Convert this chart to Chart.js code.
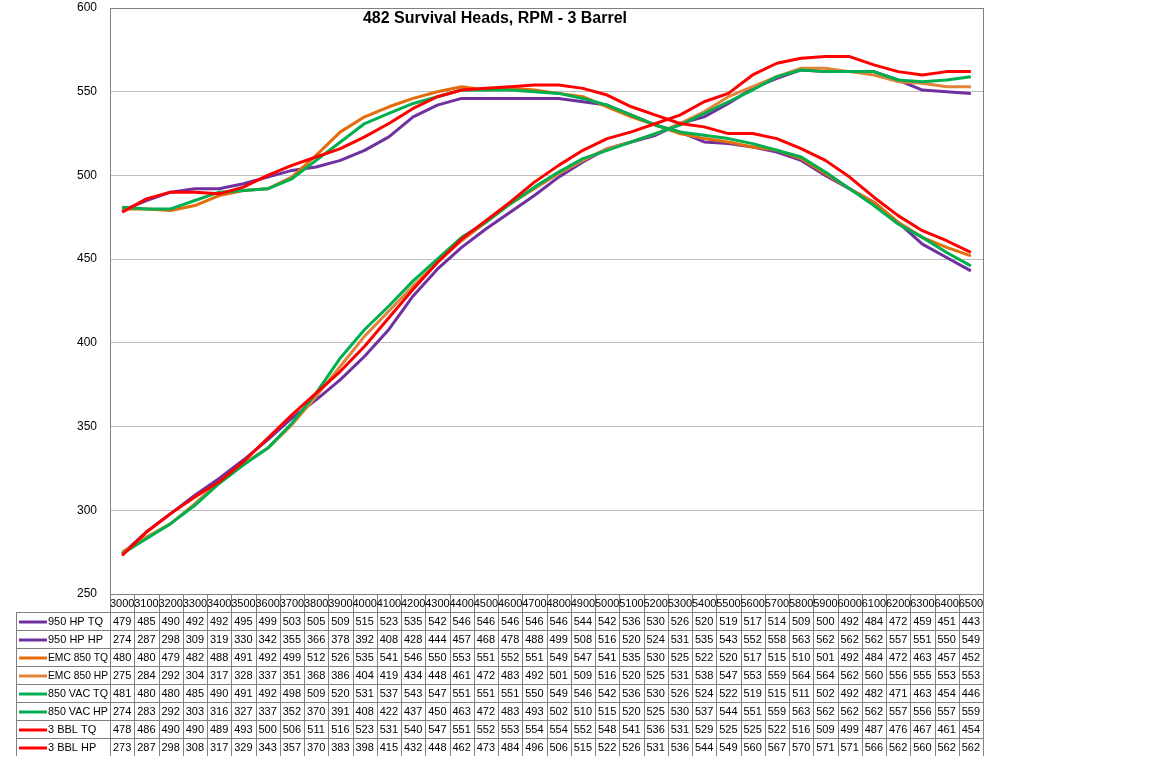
<!DOCTYPE html>
<html>
<head>
<meta charset="utf-8">
<title>482 Survival Heads, RPM - 3 Barrel</title>
<script src="https://cdn.jsdelivr.net/npm/chart.js@4.4.1/dist/chart.umd.min.js"></script>
<style>
  body { margin: 0; background: #fff; }
  #wrap { width: 1152px; height: 759px; position: relative; }
</style>
</head>
<body>
<div id="wrap"><canvas id="dynoChart"></canvas></div>
<script>
const rpm = ['3000','3100','3200','3300','3400','3500','3600','3700','3800','3900','4000','4100',
  '4200','4300','4400','4500','4600','4700','4800','4900','5000','5100','5200','5300',
  '5400','5500','5600','5700','5800','5900','6000','6100','6200','6300','6400','6500'];

const hp950Tq = [479,485,490,492,492,495,499,503,505,509,515,523,535,542,546,546,546,546,546,544,542,536,530,526,520,519,517,514,509,500,492,484,472,459,451,443];
const hp950Hp = [274,287,298,309,319,330,342,355,366,378,392,408,428,444,457,468,478,488,499,508,516,520,524,531,535,543,552,558,563,562,562,562,557,551,550,549];
const emc850Tq = [480,480,479,482,488,491,492,499,512,526,535,541,546,550,553,551,552,551,549,547,541,535,530,525,522,520,517,515,510,501,492,484,472,463,457,452];
const emc850Hp = [275,284,292,304,317,328,337,351,368,386,404,419,434,448,461,472,483,492,501,509,516,520,525,531,538,547,553,559,564,564,562,560,556,555,553,553];
const vac850Tq = [481,480,480,485,490,491,492,498,509,520,531,537,543,547,551,551,551,550,549,546,542,536,530,526,524,522,519,515,511,502,492,482,471,463,454,446];
const vac850Hp = [274,283,292,303,316,327,337,352,370,391,408,422,437,450,463,472,483,493,502,510,515,520,525,530,537,544,551,559,563,562,562,562,557,556,557,559];
const bbl3Tq = [478,486,490,490,489,493,500,506,511,516,523,531,540,547,551,552,553,554,554,552,548,541,536,531,529,525,525,522,516,509,499,487,476,467,461,454];
const bbl3Hp = [273,287,298,308,317,329,343,357,370,383,398,415,432,448,462,473,484,496,506,515,522,526,531,536,544,549,560,567,570,571,571,566,562,560,562,562];

const yTicks = [250, 300, 350, 400, 450, 500, 550, 600];
const chartTitle = '482 Survival Heads, RPM - 3 Barrel';

const FONT = '"Liberation Sans", Arial, sans-serif';

const series = [
  { label: '950 HP TQ', data: hp950Tq, color: '#7030A0' },
  { label: '950 HP HP', data: hp950Hp, color: '#7030A0' },
  { label: 'EMC 850 TQ', data: emc850Tq, color: '#E46C0A' },
  { label: 'EMC 850 HP', data: emc850Hp, color: '#E0843A' },
  { label: '850 VAC TQ', data: vac850Tq, color: '#00B050' },
  { label: '850 VAC HP', data: vac850Hp, color: '#00B050' },
  { label: '3 BBL TQ', data: bbl3Tq, color: '#FF0000' },
  { label: '3 BBL HP', data: bbl3Hp, color: '#FF0000' }
];

// title + border + data table under the plot
const tablePlugin = {
  id: 'dataTable',
  afterDraw(chart) {
    const ctx = chart.ctx;
    const area = chart.chartArea;
    const x = chart.scales.x;
    const colW = (area.right - area.left) / rpm.length;
    const headTop = area.bottom;
    const headH = 18;
    const rowH = 18;
    const legLeft = 16;

    ctx.save();
    // plot border
    ctx.strokeStyle = '#808080';
    ctx.lineWidth = 1;
    ctx.strokeRect(area.left + 0.5, area.top + 0.5, area.right - area.left, area.bottom - area.top);

    // title
    ctx.fillStyle = '#000';
    ctx.font = 'bold 16px ' + FONT;
    ctx.textAlign = 'center';
    ctx.textBaseline = 'middle';
    ctx.fillText(chartTitle, 495, 19);

    const tableBottom = headTop + headH + rowH * series.length;

    // grid of the table
    ctx.strokeStyle = '#808080';
    ctx.beginPath();
    for (let i = 0; i <= rpm.length; i++) {
      const px = Math.round(area.left + i * colW) + 0.5;
      ctx.moveTo(px, headTop);
      ctx.lineTo(px, tableBottom);
    }
    ctx.moveTo(legLeft + 0.5, headTop + headH);
    ctx.lineTo(legLeft + 0.5, tableBottom);
    for (let r = 0; r < series.length; r++) {
      const py = Math.round(headTop + headH + r * rowH) + 0.5;
      ctx.moveTo(legLeft, py);
      ctx.lineTo(area.right, py);
    }
    ctx.stroke();

    // header (rpm)
    ctx.font = '11px ' + FONT;
    ctx.fillStyle = '#000';
    rpm.forEach((lab, i) => {
      ctx.fillText(lab, x.getPixelForValue(i), headTop + headH / 2 + 1);
    });

    // rows
    series.forEach((s, r) => {
      const cy = headTop + headH + r * rowH + rowH / 2 + 1;
      ctx.strokeStyle = s.color;
      ctx.lineWidth = 3;
      ctx.beginPath();
      ctx.moveTo(19, cy);
      ctx.lineTo(47, cy);
      ctx.stroke();
      ctx.textAlign = 'left';
      ctx.fillText(s.label, 48, cy, area.left - 50);
      ctx.textAlign = 'center';
      s.data.forEach((v, i) => {
        ctx.fillText(String(v), x.getPixelForValue(i), cy);
      });
    });
    ctx.restore();
  }
};

new Chart(document.getElementById('dynoChart'), {
  type: 'line',
  data: {
    labels: rpm,
    datasets: series.map((s, i) => ({
      label: s.label,
      data: s.data,
      borderColor: s.color,
      backgroundColor: s.color,
      borderWidth: 3,
      pointRadius: 0,
      tension: 0,
      borderJoinStyle: 'round',
      order: series.length - i
    }))
  },
  options: {
    responsive: true,
    maintainAspectRatio: false,
    animation: false,
    layout: { padding: { top: 8, right: 169, bottom: 165, left: 0 } },
    plugins: {
      legend: { display: false },
      title: { display: false },
      tooltip: { enabled: false }
    },
    scales: {
      x: {
        display: false,
        offset: true
      },
      y: {
        min: 250,
        max: 600,
        afterFit(scale) {
          scale.width = 110;
          scale.paddingTop = 0;
          scale.paddingBottom = 0;
        },
        afterBuildTicks(scale) { scale.ticks = yTicks.map(v => ({ value: v })); },
        ticks: {
          color: '#000',
          padding: 13,
          font: { family: FONT, size: 12 }
        },
        grid: { color: '#bdbdbd', drawTicks: false },
        border: { color: '#808080' }
      }
    }
  },
  plugins: [tablePlugin]
});
</script>
</body>
</html>
